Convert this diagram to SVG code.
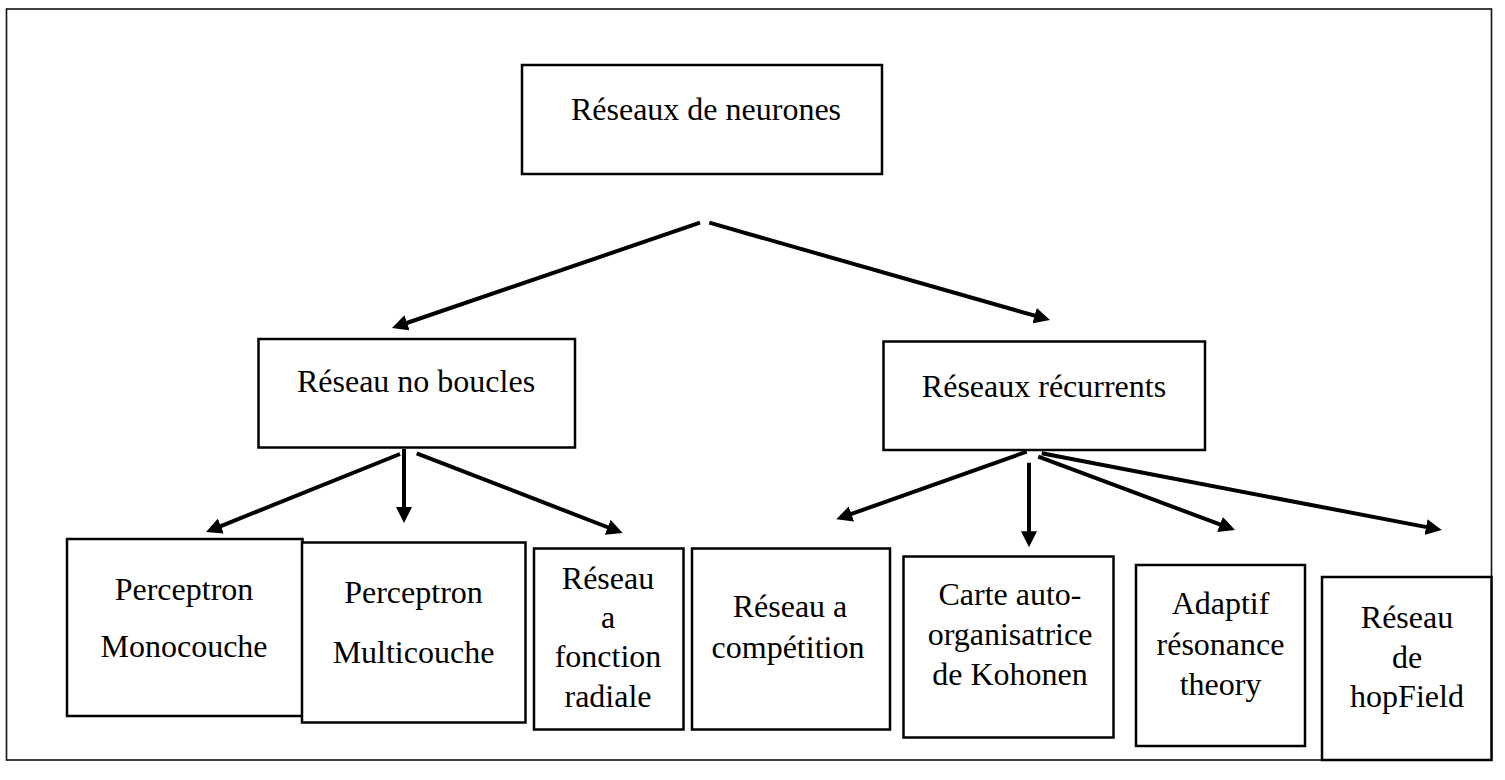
<svg xmlns="http://www.w3.org/2000/svg" width="1505" height="780" viewBox="0 0 1505 780">
  <style>
    .box { fill: #ffffff; stroke: #000000; stroke-width: 2.5; }
    .frame { fill: none; stroke: #111111; stroke-width: 1.6; }
    .lbl { font-family: "Liberation Serif", "Times New Roman", serif; font-size: 32px; fill: #000000; text-anchor: middle; }
    .conn { stroke: #000000; stroke-width: 4; fill: none; marker-end: url(#ah); }
  </style>
  <defs>
    <marker id="ah" markerUnits="userSpaceOnUse" markerWidth="16" markerHeight="16" refX="2" refY="8" orient="auto">
      <path d="M0,0 L16,8 L0,16 z" fill="#000000"/>
    </marker>
  </defs>
  <rect x="0" y="0" width="1505" height="780" fill="#ffffff"/>
  <rect class="frame" x="6.5" y="9" width="1485" height="751"/>

  <g id="connectors">
    <line class="conn" x1="700" y1="222.7" x2="405.2" y2="323.5"/>
    <line class="conn" x1="709.3" y1="222.7" x2="1036.5" y2="316.2"/>
    <line class="conn" x1="400" y1="454" x2="219" y2="526.8"/>
    <line class="conn" x1="404" y1="449" x2="404" y2="509"/>
    <line class="conn" x1="416.7" y1="453.3" x2="609.6" y2="528"/>
    <line class="conn" x1="1026.7" y1="451.7" x2="849.5" y2="514.6"/>
    <line class="conn" x1="1029" y1="462.7" x2="1029" y2="533.3"/>
    <line class="conn" x1="1038.3" y1="456.7" x2="1221.9" y2="525.1"/>
    <line class="conn" x1="1041.7" y1="453.3" x2="1428" y2="527.4"/>
  </g>

  <g id="node-root">
    <rect class="box" x="522" y="65" width="360" height="109"/>
    <text class="lbl" x="706" y="120">Réseaux de neurones</text>
  </g>
  <g id="node-no-boucles">
    <rect class="box" x="258.5" y="339" width="316.5" height="108.5"/>
    <text class="lbl" x="416" y="392">Réseau no boucles</text>
  </g>
  <g id="node-recurrents">
    <rect class="box" x="883.5" y="341.5" width="321.5" height="108.5"/>
    <text class="lbl" x="1044" y="397">Réseaux récurrents</text>
  </g>
  <g id="node-monocouche">
    <rect class="box" x="67" y="539" width="235.5" height="177"/>
    <text class="lbl" x="184" y="600">Perceptron</text>
    <text class="lbl" x="184" y="657">Monocouche</text>
  </g>
  <g id="node-multicouche">
    <rect class="box" x="302" y="542.5" width="223.5" height="180"/>
    <text class="lbl" x="413.5" y="603">Perceptron</text>
    <text class="lbl" x="413.5" y="663">Multicouche</text>
  </g>
  <g id="node-radiale">
    <rect class="box" x="534" y="548.5" width="149.5" height="181"/>
    <text class="lbl" x="608" y="589">Réseau</text>
    <text class="lbl" x="608" y="628">a</text>
    <text class="lbl" x="608" y="667">fonction</text>
    <text class="lbl" x="608" y="707">radiale</text>
  </g>
  <g id="node-competition">
    <rect class="box" x="692" y="548.5" width="198" height="181"/>
    <text class="lbl" x="790" y="617">Réseau a</text>
    <text class="lbl" x="788" y="658">compétition</text>
  </g>
  <g id="node-kohonen">
    <rect class="box" x="903.5" y="556.5" width="210" height="181"/>
    <text class="lbl" x="1010" y="604.5">Carte auto-</text>
    <text class="lbl" x="1010" y="644.5">organisatrice</text>
    <text class="lbl" x="1010" y="685">de Kohonen</text>
  </g>
  <g id="node-adaptif">
    <rect class="box" x="1136" y="565" width="169" height="181"/>
    <text class="lbl" x="1220.5" y="614">Adaptif</text>
    <text class="lbl" x="1220.5" y="655">résonance</text>
    <text class="lbl" x="1220.5" y="695">theory</text>
  </g>
  <g id="node-hopfield">
    <rect class="box" x="1322" y="577" width="169.5" height="183"/>
    <text class="lbl" x="1407" y="628">Réseau</text>
    <text class="lbl" x="1407" y="668">de</text>
    <text class="lbl" x="1407" y="707">hopField</text>
  </g>
</svg>
